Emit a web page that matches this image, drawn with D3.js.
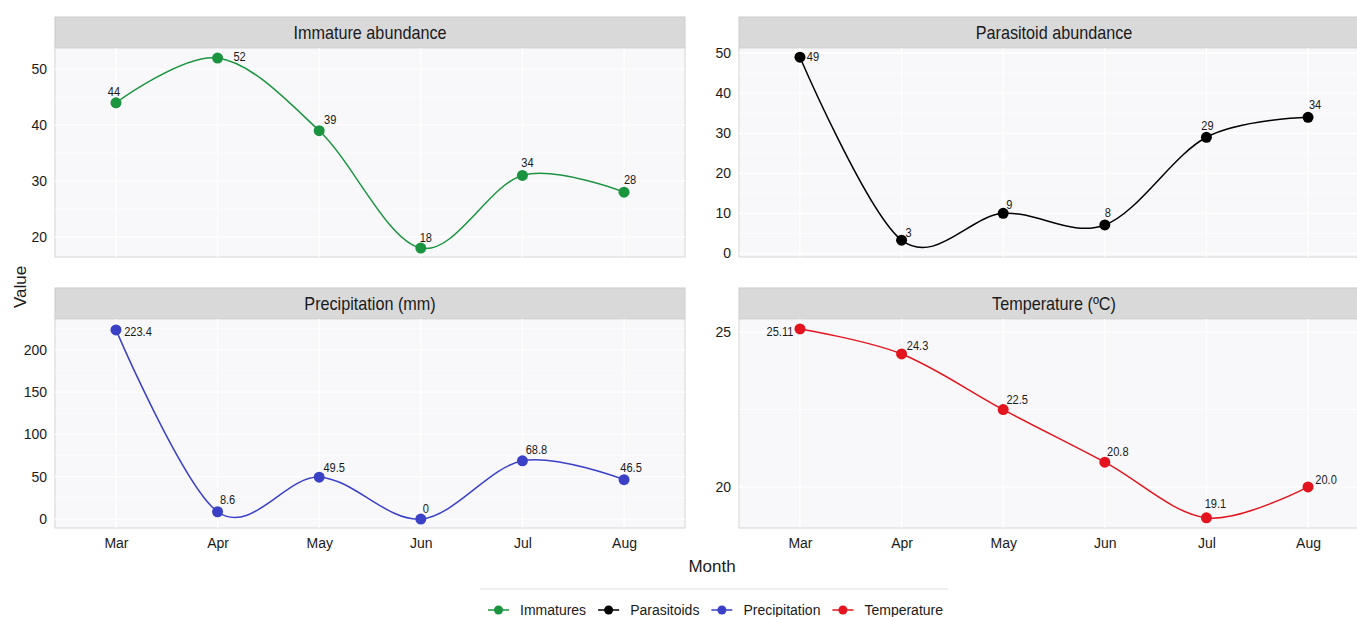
<!DOCTYPE html>
<html>
<head>
<meta charset="utf-8">
<script src="https://cdn.jsdelivr.net/npm/d3@7"></script>
<style>
  body { margin: 0; background: #fff; }
  text { font-family: "Liberation Sans", Arial, sans-serif; fill: #1a1a1a; }
</style>
</head>
<body>
<div id="chart"></div>
<script>
// months on the x axis
const months = ["Mar", "Apr", "May", "Jun", "Jul", "Aug"];

// plotted values and the printed labels (they differ a bit in the source)
const immatureValues = [44, 52, 39, 18, 31, 28];
const immatureLabels = ["44", "52", "39", "18", "34", "28"];
const parasitoidValues = [49, 3.3, 10, 7.1, 29, 34];
const parasitoidLabels = ["49", "3", "9", "8", "29", "34"];
const precipValues = [223.4, 8.6, 49.5, 0, 68.8, 46.5];
const precipLabels = ["223.4", "8.6", "49.5", "0", "68.8", "46.5"];
const tempValues = [25.11, 24.3, 22.5, 20.8, 19.0, 20.0];
const tempLabels = ["25.11", "24.3", "22.5", "20.8", "19.1", "20.0"];

// y ticks
const immatureTicks = [20, 30, 40, 50];
const parasitoidTicks = [0, 10, 20, 30, 40, 50];
const precipTicks = [0, 50, 100, 150, 200];
const tempTicks = [20, 25];

const seriesNames = ["Immatures", "Parasitoids", "Precipitation", "Temperature"];
const panelTitles = ["Immature abundance", "Parasitoid abundance", "Precipitation (mm)", "Temperature (ºC)"];

const width = 1357, height = 617;
const colors = ["#1b9440", "#000000", "#3a41c6", "#e3141e"];

// label nudges (repel-like placement in the source)
const immatureNudge = [[-2, -11], [22, -2], [11, -11], [5, -11], [5, -13], [6, -13]];
const parasitoidNudge = [[13, -1], [7, -8], [6, -9], [3, -12], [1, -12], [7, -13]];
const precipNudge = [[22, 2], [10, -12], [15, -10], [5, -11], [14, -11], [7, -12]];
const tempNudge = [[-20, 3], [16, -8], [14, -10], [13, -11], [9, -14], [18, -7]];

const panels = [
  { title: panelTitles[0], values: immatureValues, labels: immatureLabels, ticks: immatureTicks, nudge: immatureNudge,
    domain: [16.4, 53.8], color: colors[0], x0: 55, x1: 685, y0: 48, y1: 257, strip: 17, showX: false },
  { title: panelTitles[1], values: parasitoidValues, labels: parasitoidLabels, ticks: parasitoidTicks, nudge: parasitoidNudge,
    domain: [-0.9, 51.3], color: colors[1], x0: 739, x1: 1369, y0: 48, y1: 257, strip: 17, showX: false },
  { title: panelTitles[2], values: precipValues, labels: precipLabels, ticks: precipTicks, nudge: precipNudge,
    domain: [-10.6, 236.3], color: colors[2], x0: 55, x1: 685, y0: 319, y1: 528, strip: 288, showX: true },
  { title: panelTitles[3], values: tempValues, labels: tempLabels, ticks: tempTicks, nudge: tempNudge,
    domain: [18.67, 25.43], color: colors[3], x0: 739, x1: 1369, y0: 319, y1: 528, strip: 288, showX: true }
];

const svg = d3.select("#chart").append("svg")
  .attr("width", width)
  .attr("height", height);

panels.forEach(p => {
  let x = d3.scalePoint().domain(months).range([p.x0, p.x1]).padding(0.6);
  let y = d3.scaleLinear().domain(p.domain).range([p.y1, p.y0]);
  let g = svg.append("g");

  // strip
  g.append("rect")
    .attr("x", p.x0).attr("y", p.strip)
    .attr("width", p.x1 - p.x0).attr("height", p.y0 - p.strip)
    .attr("fill", "#d9d9d9")
    .attr("stroke", "#cccccc");
  g.append("text")
    .attr("transform", `translate(${(p.x0 + p.x1) / 2}, ${(p.strip + p.y0) / 2 + 6}) scale(0.9, 1)`)
    .attr("text-anchor", "middle")
    .style("font-size", "18px")
    .text(p.title);

  // panel background
  g.append("rect")
    .attr("x", p.x0).attr("y", p.y0)
    .attr("width", p.x1 - p.x0).attr("height", p.y1 - p.y0)
    .attr("fill", "#f8f8fa")
    .attr("stroke", "#d6d6d6");

  // minor grid
  let step = p.ticks[1] - p.ticks[0];
  let minor = d3.range(p.ticks[0] - step / 2, p.domain[1], step).filter(v => v > p.domain[0]);
  g.selectAll(".minor").data(minor).enter().append("line")
    .attr("x1", p.x0).attr("x2", p.x1)
    .attr("y1", d => y(d)).attr("y2", d => y(d))
    .attr("stroke", "#ffffff").attr("stroke-width", 0.6);

  // major grid
  g.selectAll(".major").data(p.ticks).enter().append("line")
    .attr("x1", p.x0).attr("x2", p.x1)
    .attr("y1", d => y(d)).attr("y2", d => y(d))
    .attr("stroke", "#ffffff").attr("stroke-width", 1.2);
  g.selectAll(".vgrid").data(months).enter().append("line")
    .attr("x1", d => x(d)).attr("x2", d => x(d))
    .attr("y1", p.y0).attr("y2", p.y1)
    .attr("stroke", "#ffffff").attr("stroke-width", 1.2);

  // y axis
  let yAxis = g.append("g")
    .attr("transform", `translate(${p.x0}, 0)`)
    .call(d3.axisLeft(y).tickValues(p.ticks).tickFormat(d3.format("d")).tickSize(0).tickPadding(8));
  yAxis.select(".domain").remove();
  yAxis.selectAll("text").style("font-size", "14px").style("font-family", "'Liberation Sans', Arial, sans-serif").attr("fill", "#111");

  if (p.showX) {
    let xAxis = g.append("g")
      .attr("transform", `translate(0, ${p.y1})`)
      .call(d3.axisBottom(x).tickSize(0).tickPadding(10));
    xAxis.select(".domain").remove();
    xAxis.selectAll("text").style("font-size", "14px").style("font-family", "'Liberation Sans', Arial, sans-serif").attr("fill", "#111");
  }

  // smooth line through the points
  let line = d3.line()
    .x((d, i) => x(months[i]))
    .y(d => y(d))
    .curve(d3.curveCatmullRom.alpha(0));
  g.append("path")
    .datum(p.values)
    .attr("d", line)
    .attr("fill", "none")
    .attr("stroke", p.color)
    .attr("stroke-width", 1.5);

  g.selectAll(".pt").data(p.values).enter().append("circle")
    .attr("cx", (d, i) => x(months[i]))
    .attr("cy", d => y(d))
    .attr("r", 5.5)
    .attr("fill", p.color);

  g.selectAll(".lab").data(p.labels).enter().append("text")
    .attr("transform", (d, i) => `translate(${x(months[i]) + p.nudge[i][0]}, ${y(p.values[i]) + p.nudge[i][1] + 4.5}) scale(0.82, 1)`)
    .attr("text-anchor", "middle")
    .style("font-size", "13.5px")
    .attr("fill", "#333")
    .text(d => d);
});

// axis titles
svg.append("text")
  .attr("x", 712).attr("y", 572)
  .attr("text-anchor", "middle")
  .style("font-size", "17px")
  .text("Month");
svg.append("text")
  .attr("transform", "translate(26, 287) rotate(-90)")
  .attr("text-anchor", "middle")
  .style("font-size", "17px")
  .text("Value");

// legend
svg.append("line")
  .attr("x1", 480).attr("x2", 948)
  .attr("y1", 589).attr("y2", 589)
  .attr("stroke", "#dddddd");

let legend = svg.append("g");
let lx = 488;
seriesNames.forEach((name, i) => {
  let item = legend.append("g").attr("transform", `translate(${lx}, 610)`);
  item.append("line")
    .attr("x1", 0).attr("x2", 21)
    .attr("stroke", colors[i]).attr("stroke-width", 1.5);
  item.append("circle")
    .attr("cx", 10.5).attr("r", 4.5)
    .attr("fill", colors[i]);
  let t = item.append("text")
    .attr("x", 32).attr("y", 5)
    .style("font-size", "14px")
    .text(name);
  lx += 32 + t.node().getComputedTextLength() + 12;
});
</script>
</body>
</html>
